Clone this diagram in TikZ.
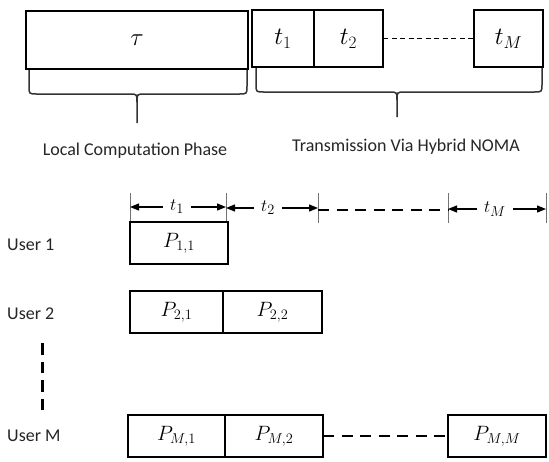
\documentclass[tikz,border=0pt]{standalone}
\usepackage{fontspec}
\setmainfont{Carlito}
\usetikzlibrary{arrows.meta}
\begin{document}
\begin{tikzpicture}[x=1pt,y=-1pt,
  box/.style={draw, line width=1.3pt, inner sep=0pt, outer sep=0pt, anchor=north west, font=\fontsize{20}{22}\selectfont},
  topbox/.style={box, minimum height=57pt, font=\fontsize{26}{30}\selectfont},
  pbox/.style={box, minimum height=42pt},
  brace/.style={draw=black!80, line width=1.5pt},
  lbl/.style={font=\fontsize{18}{22}\selectfont, text=black!85, inner sep=0pt},
  tickline/.style={draw=black!55, line width=0.8pt},
  tarrow/.style={-{Triangle[length=9pt,width=7pt]}, line width=1.2pt},
  tlab/.style={font=\fontsize{19}{21}\selectfont, inner ysep=0pt, inner xsep=7pt},
  bigdash/.style={line width=2.8pt, dash pattern=on 11pt off 7.5pt}
]
\useasboundingbox (0,0) rectangle (549,461);
\fill[white] (0,0) rectangle (549,461);

% ---- top row
\node[topbox, minimum width=222pt, minimum height=58pt] (tau) at (26,11) {$\tau$};
\node[topbox, minimum width=62pt] (T1) at (252,10) {$t_1$};
\node[topbox, minimum width=69pt] (T2) at (T1.north east) {$t_2$};
\node[topbox, minimum width=69pt] (TM) at (474,10) {$t_M$};
\draw[line width=1.1pt, dash pattern=on 5pt off 3.5pt] (T2.east) -- (TM.west);

% ---- braces and captions
\node[lbl] (lcp) at (135,151) {Local Computation Phase};
\node[lbl] (tvh) at (406,147) {Transmission Via Hybrid NOMA};
\draw[brace] (29,70) -- (29,86) .. controls (29,94) .. (37,94) -- (129,94)
  .. controls (137,94) .. (137,102) -- (137,123);
\draw[brace] (247,70) -- (247,86) .. controls (247,94) .. (239,94) -- (145,94)
  .. controls (137,94) .. (137,102);
\draw[brace] (256,68) -- (256,84) .. controls (256,92) .. (264,92) -- (389,92)
  .. controls (397,92) .. (397,100) -- (397,117);
\draw[brace] (542,68) -- (542,84) .. controls (542,92) .. (534,92) -- (405,92)
  .. controls (397,92) .. (397,100);

% ---- time axis
\coordinate (k1) at (130,208);
\coordinate (k2) at (226,208);
\coordinate (k3) at (318,208);
\coordinate (k4) at (448,208);
\coordinate (k5) at (546,208);
\foreach \k in {k1,k2,k3,k4,k5}
  \draw[tickline] (\k) ++(0,-15) -- ++(0,30);
\node[tlab] (L1) at (177,207) {$t_1$};
\node[tlab] (L2) at (268,208) {$t_2$};
\node[tlab] (LM) at (495,209) {$t_M$};
\draw[tarrow] (L1.west) -- (L1.west -| k1);
\draw[tarrow] (L1.east) -- (L1.east -| k2);
\draw[tarrow] (L2.west) -- (L2.west -| k2);
\draw[tarrow] (L2.east) -- (L2.east -| k3);
\draw[tarrow] (LM.west) -- (LM.west -| k4);
\draw[tarrow] (LM.east) -- (LM.east -| k5);
\draw[bigdash] ([yshift=-2pt]k3) -- ([yshift=-2pt]k4);

% ---- users
\node[lbl, anchor=west] (u1) at (7,245) {User 1};
\node[lbl, anchor=west] (u2) at (7,314) {User 2};
\node[lbl, anchor=west] (uM) at (7,436) {User M};
\coordinate (vd1) at (42,343);
\coordinate (vd2) at (42,410);
\draw[line width=3pt, dash pattern=on 11.5pt off 7pt] (vd1) -- (vd2);

\node[pbox, minimum width=98pt] (p11) at (130,222) {$P_{1,1}$};
\node[pbox, minimum width=93pt] (p21) at (130,291) {$P_{2,1}$};
\node[pbox, minimum width=99pt] (p22) at (p21.north east) {$P_{2,2}$};
\node[pbox, minimum width=97pt] (pM1) at (128,415) {$P_{M,1}$};
\node[pbox, minimum width=98pt] (pM2) at (pM1.north east) {$P_{M,2}$};
\node[pbox, minimum width=98pt] (pMM) at (448,415) {$P_{M,M}$};
\draw[bigdash] (pM2.east) -- (pMM.west);
\end{tikzpicture}
\end{document}
